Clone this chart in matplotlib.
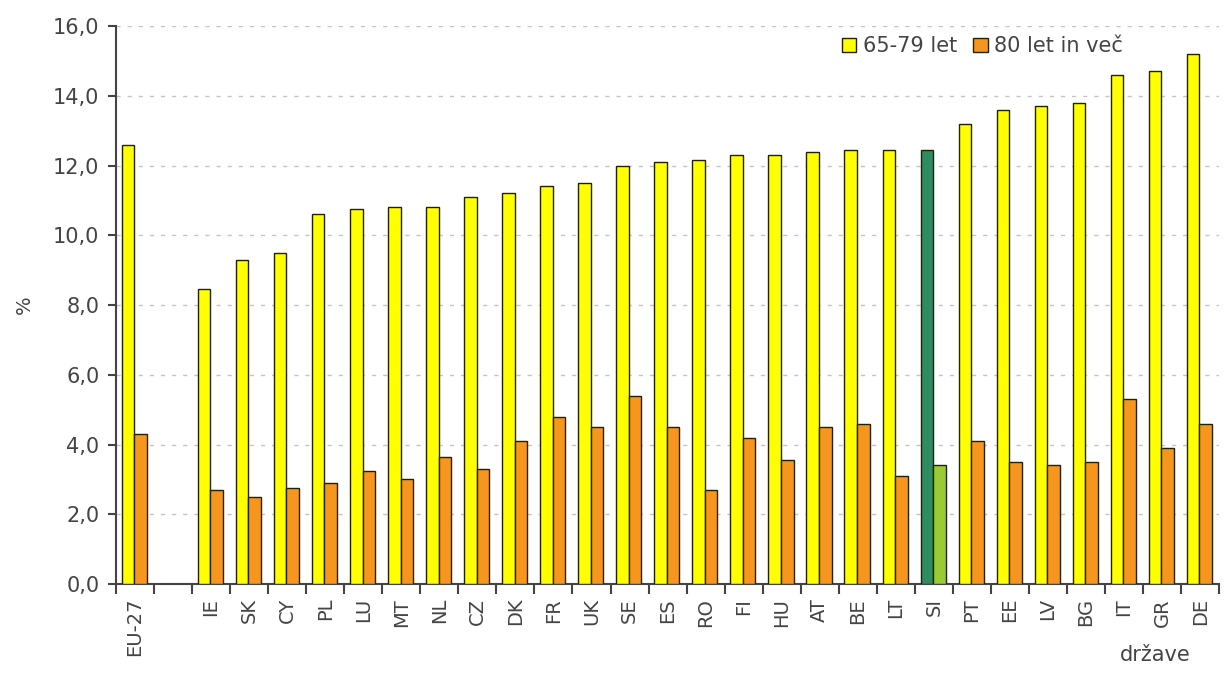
import matplotlib
matplotlib.use("Agg")
import matplotlib.pyplot as plt
import numpy as np

countries = ["EU-27", "", "IE", "SK", "CY", "PL", "LU", "MT", "NL", "CZ", "DK", "FR",
             "UK", "SE", "ES", "RO", "FI", "HU", "AT", "BE", "LT", "SI", "PT", "EE",
             "LV", "BG", "IT", "GR", "DE"]
age_65_79 = [12.6, np.nan, 8.45, 9.3, 9.5, 10.6, 10.75, 10.8, 10.8, 11.1, 11.2, 11.4,
             11.5, 12.0, 12.1, 12.15, 12.3, 12.3, 12.4, 12.45, 12.45, 12.45, 13.2, 13.6,
             13.7, 13.8, 14.6, 14.7, 15.2]
age_80_plus = [4.3, np.nan, 2.7, 2.5, 2.75, 2.9, 3.25, 3.0, 3.65, 3.3, 4.1, 4.8,
               4.5, 5.4, 4.5, 2.7, 4.2, 3.55, 4.5, 4.6, 3.1, 3.4, 4.1, 3.5,
               3.4, 3.5, 5.3, 3.9, 4.6]
highlight = "SI"

yellow = "#ffff00"
orange = "#f7961e"
dark_green = "#2e8b62"
light_green = "#99cc33"
grey = "#444444"

fig = plt.figure(figsize=(12.29, 6.81), dpi=100)
ax = fig.add_axes([0.0944, 0.1424, 0.8976, 0.8194])

x = np.arange(len(countries))
w = 0.33
c1 = [dark_green if c == highlight else yellow for c in countries]
c2 = [light_green if c == highlight else orange for c in countries]
ax.bar(x - w / 2 - 0.02, age_65_79, w, color=c1, edgecolor="#222200", linewidth=1.0,
       label="65-79 let", zorder=3)
ax.bar(x + w / 2 - 0.02, age_80_plus, w, color=c2, edgecolor="#222200", linewidth=1.0,
       label="80 let in več", zorder=3)

ax.set_xlim(-0.5, len(countries) - 0.5)
ax.set_ylim(0, 16)
yt = np.arange(0, 17, 2)
ax.set_yticks(yt)
ax.set_yticklabels([f"{v:.1f}".replace(".", ",") for v in yt], fontsize=15, color=grey)
ax.yaxis.grid(True, linestyle=(0, (3, 5)), color="#c4c4c4", linewidth=1, zorder=0)

ax.set_xticks(x)
ax.set_xticklabels(countries, rotation=90, fontsize=14, color=grey)
ax.set_xticks(np.arange(-0.5, len(countries), 1), minor=True)
ax.tick_params(axis="x", which="major", length=0, pad=10)
ax.tick_params(axis="x", which="minor", length=7, width=1.5, color=grey, direction="out")
ax.tick_params(axis="y", length=6, width=1.5, color=grey, pad=6)

for s in ["top", "right"]:
    ax.spines[s].set_visible(False)
for s in ["left", "bottom"]:
    ax.spines[s].set_color(grey)
    ax.spines[s].set_linewidth(1.5)

ax.set_ylabel("%", fontsize=14, color=grey, labelpad=14)
fig.text(0.94, 0.03, "države", fontsize=15, color=grey, ha="center")

leg = ax.legend(loc="upper right", bbox_to_anchor=(0.93, 1.015), ncol=2, frameon=False,
                fontsize=15, handlelength=0.7, handleheight=0.7, handletextpad=0.3,
                columnspacing=0.8)
for t in leg.get_texts():
    t.set_color(grey)

fig.savefig("out.png", dpi=100)
